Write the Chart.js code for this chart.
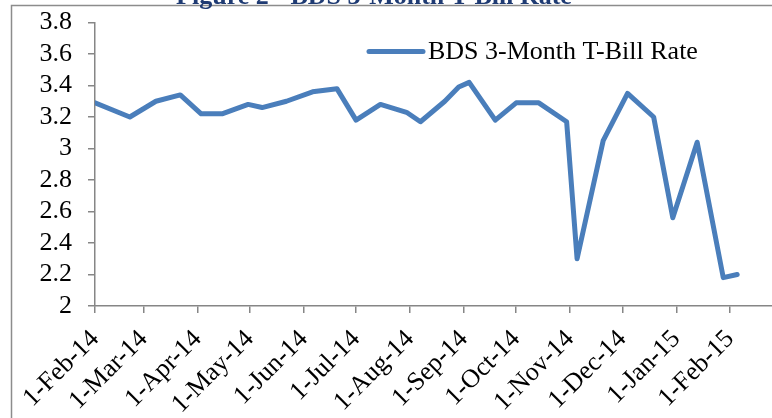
<!DOCTYPE html>
<html>
<head>
<meta charset="utf-8">
<script src="https://cdn.jsdelivr.net/npm/chart.js@4"></script>
<style>
  html, body { margin: 0; padding: 0; background: #fff; }
  #wrap { width: 772px; height: 418px; position: relative; }
</style>
</head>
<body>
<div id="wrap"><canvas id="chart" width="772" height="418"></canvas></div>
<script>
const titleText = "Figure 2 - BDS 3-Month T-Bill Rate";
const seriesName = "BDS 3-Month T-Bill Rate";

const startDate = "2014-02-01";
const dates = [
  "2014-02-01", "2014-02-21", "2014-03-08", "2014-03-22", "2014-04-03",
  "2014-04-15", "2014-04-30", "2014-05-08", "2014-05-22", "2014-06-06",
  "2014-06-20", "2014-07-01", "2014-07-15", "2014-07-30", "2014-08-07",
  "2014-08-21", "2014-08-29", "2014-09-04", "2014-09-19", "2014-10-01",
  "2014-10-14", "2014-10-30", "2014-11-05", "2014-11-20", "2014-12-04",
  "2014-12-19", "2014-12-30", "2015-01-13", "2015-01-28", "2015-02-05"
];
const rates = [
  3.29, 3.20, 3.30, 3.34, 3.22,
  3.22, 3.28, 3.26, 3.30, 3.36,
  3.38, 3.18, 3.28, 3.23, 3.17,
  3.30, 3.39, 3.42, 3.18, 3.29,
  3.29, 3.17, 2.30, 3.05, 3.35,
  3.20, 2.56, 3.04, 2.18, 2.20
];

const tickDates = [
  "2014-02-01", "2014-03-01", "2014-04-01", "2014-05-01", "2014-06-01",
  "2014-07-01", "2014-08-01", "2014-09-01", "2014-10-01", "2014-11-01",
  "2014-12-01", "2015-01-01", "2015-02-01"
];
const tickLabels = [
  "1-Feb-14", "1-Mar-14", "1-Apr-14", "1-May-14", "1-Jun-14",
  "1-Jul-14", "1-Aug-14", "1-Sep-14", "1-Oct-14", "1-Nov-14",
  "1-Dec-14", "1-Jan-15", "1-Feb-15"
];
const yTicks = [2, 2.2, 2.4, 2.6, 2.8, 3, 3.2, 3.4, 3.6, 3.8];

// days since the first date, used as the x value
const dayOf = s => (Date.parse(s + "T00:00:00Z") - Date.parse(startDate + "T00:00:00Z")) / 86400000;
const tickDays = tickDates.map(dayOf);
const points = dates.map((d, i) => ({ x: dayOf(d), y: rates[i] }));

const serif = "'Liberation Serif', 'Times New Roman', serif";
const lineColor = "#4a7ebb";
const axisColor = "#868686";

const frame = {
  id: "frame",
  afterDraw(chart) {
    const ctx = chart.ctx;
    const area = chart.chartArea;
    ctx.save();
    // outer chart border (cropped on right/bottom)
    ctx.strokeStyle = "#8c8c8c";
    ctx.lineWidth = 1.5;
    ctx.strokeRect(11.5, 5.5, 820, 500);
    // title, mostly cut off at the top
    ctx.fillStyle = "#1f3b73";
    ctx.font = "bold 26px " + serif;
    ctx.textAlign = "center";
    ctx.textBaseline = "alphabetic";
    ctx.fillText(titleText, 374, 4);
    // legend
    const lx = area.left + 274;
    const ly = area.top + 29;
    ctx.strokeStyle = lineColor;
    ctx.lineWidth = 5;
    ctx.lineCap = "round";
    ctx.beginPath();
    ctx.moveTo(lx, ly);
    ctx.lineTo(lx + 54, ly);
    ctx.stroke();
    ctx.fillStyle = "#000";
    ctx.font = "26px " + serif;
    ctx.textAlign = "left";
    ctx.textBaseline = "middle";
    ctx.fillText(seriesName, lx + 59, ly + 1);
    ctx.restore();
  }
};

new Chart(document.getElementById("chart"), {
  type: "line",
  data: {
    datasets: [{
      label: seriesName,
      data: points,
      borderColor: lineColor,
      backgroundColor: lineColor,
      borderWidth: 5,
      borderJoinStyle: "round",
      borderCapStyle: "round",
      pointRadius: 0,
      tension: 0
    }]
  },
  options: {
    responsive: false,
    animation: false,
    layout: { padding: { top: 22.5, left: 0, right: 0, bottom: 0 } },
    scales: {
      x: {
        type: "linear",
        min: 0,
        max: 389,
        afterBuildTicks: scale => { scale.ticks = tickDays.map(v => ({ value: v })); },
        afterFit: scale => { scale.height = 112; scale.paddingRight = 0; scale.paddingLeft = 0; },
        ticks: {
          autoSkip: false,
          minRotation: 45,
          maxRotation: 45,
          padding: 11,
          color: "#000",
          font: { family: serif, size: 26 },
          callback: (v, i) => tickLabels[i]
        },
        grid: { drawOnChartArea: false, tickLength: 7, color: axisColor, lineWidth: 1.5 },
        border: { color: axisColor, width: 1.5 }
      },
      y: {
        min: 2,
        max: 3.8,
        afterBuildTicks: scale => { scale.ticks = yTicks.map(v => ({ value: v })); },
        afterFit: scale => { scale.width = 95; scale.paddingTop = 0; },
        ticks: {
          autoSkip: false,
          padding: 16,
          color: "#000",
          font: { family: serif, size: 26 },
          callback: v => String(v)
        },
        grid: { drawOnChartArea: false, tickLength: 7, color: axisColor, lineWidth: 1.5 },
        border: { color: axisColor, width: 1.5 }
      }
    },
    plugins: {
      legend: { display: false },
      tooltip: { enabled: false }
    }
  },
  plugins: [frame]
});
</script>
</body>
</html>
